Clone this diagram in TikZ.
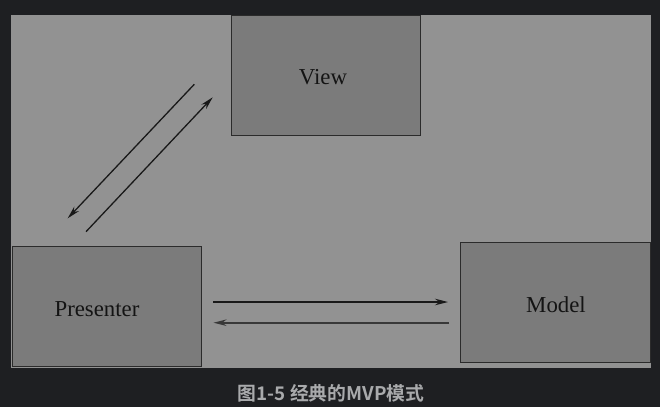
\documentclass[tikz,border=0pt]{standalone}
\usepackage{fontspec}
\setmainfont{Liberation Serif}
\newfontfamily\cjk{Noto Sans CJK SC Bold}
\usetikzlibrary{arrows.meta}
\definecolor{pagebg}{HTML}{1E1F22}
\definecolor{panelgray}{HTML}{929292}
\definecolor{boxgray}{HTML}{7B7B7B}
\definecolor{edgegray}{HTML}{2B2B2B}
\definecolor{captiongray}{HTML}{A9AAAC}

\begin{document}
\begin{tikzpicture}[x=1pt, y=-1pt,
        part/.style={draw=edgegray, fill=boxgray, line width=1pt, minimum width=189pt, minimum height=120pt, inner sep=0pt},
        partname/.style={inner sep=0pt, font=\fontsize{22.8}{24}\selectfont, text=black!92},
        link/.style={-{Stealth[length=13pt, width=6.5pt]}, line width=1.3pt, black!90}]
        \fill[pagebg] (0,0) rectangle (660,407);
        \fill[panelgray] (11,15) rectangle (651,368);
        \node[part] (view) at (325.5,75.8) {};
        \node[part] (presenter) at (106.5,306.7) {};
        \node[part, minimum width=190pt] (model) at (555.2,302.3) {};
        \node[partname] (viewname) at ([shift={(-2.5,1)}]view.center) {View};
        \node[partname] (presentername) at ([shift={(-9.5,2)}]presenter.center) {Presenter};
        \node[partname] (modelname) at ([shift={(0.8,2.5)}]model.center) {Model};
        \coordinate (vp1) at (194.3,84.3);
        \coordinate (vp2) at (67.7,218.3);
        \coordinate (pv1) at (86,231.7);
        \coordinate (pv2) at (212.7,97.3);
        \coordinate (pm1) at (213,302);
        \coordinate (pm2) at (448,302);
        \coordinate (mp1) at (449,322.7);
        \coordinate (mp2) at (213.5,322.7);
        \draw[link] (vp1) -- (vp2);
        \draw[link] (pv1) -- (pv2);
        \draw[link] (pm1) -- (pm2);
        \draw[link, line width=1.8pt, black!78] (mp1) -- (mp2);
        \node[text=captiongray, font=\cjk\fontsize{18.8}{20}\selectfont] (caption) at (331,393) {图1-5 经典的MVP模式};
\end{tikzpicture}
\end{document}
